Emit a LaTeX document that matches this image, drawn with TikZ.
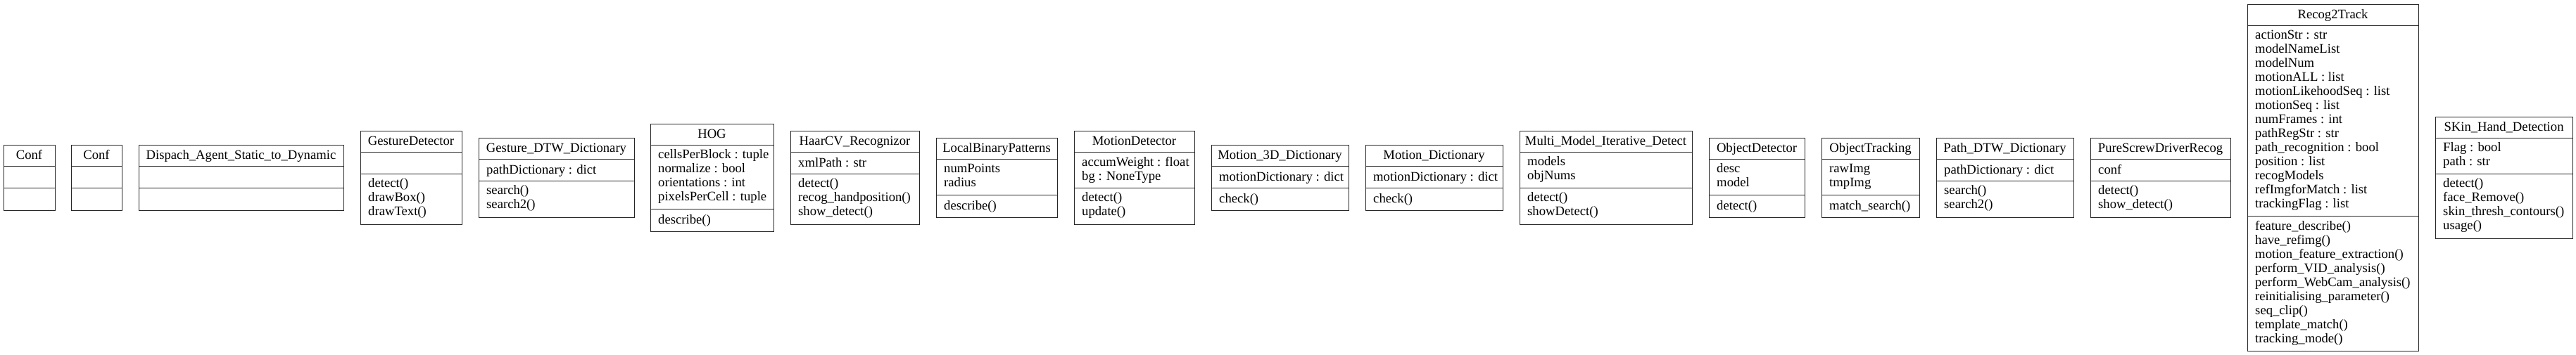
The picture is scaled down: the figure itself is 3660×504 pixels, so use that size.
\documentclass[tikz,border=0pt]{standalone}
\usepackage{fontspec}
\setmainfont{Liberation Serif}
\newcommand\umlfont{\fontsize{18.67}{20}\selectfont}
\newcommand\ustrut{\rule[-5pt]{0pt}{20pt}}
\tikzset{
  classbox/.style={draw=black!85, line width=1.2pt, inner sep=0pt, rectangle},
  classline/.style={draw=black!85, line width=1.2pt},
  classtext/.style={inner sep=0pt, font=\umlfont, align=left,
    execute at begin node=\ustrut, execute at end node=\ustrut},
  classhead/.style={inner sep=0pt, font=\umlfont, execute at begin node=\ustrut},
}
% id, left x, width, #attr lines, #method lines, header, attrs, methods
\newcommand\umlclass[8]{%
  \pgfmathsetmacro\ucA{max(#4,1)*20+11}%
  \pgfmathsetmacro\ucM{max(#5,1)*20+11}%
  \pgfmathsetmacro\ucH{31+\ucA+\ucM}%
  \pgfmathsetmacro\ucT{-(252-\ucH/2)}%
  \node[classbox, anchor=north west, minimum width=#3pt, minimum height=\ucH pt] (#1) at (#2,\ucT) {};
  \draw[classline] (#2,\ucT-31) -- ++(#3,0);
  \draw[classline] (#2,\ucT-31-\ucA) -- ++(#3,0);
  \node[classhead] (#1-h) at (#2+#3/2,\ucT-15.5) {#6};
  \ifnum#4>0 \node[classtext, anchor=west] (#1-a) at (#2+11,\ucT-31-\ucA/2) {#7};\fi
  \ifnum#5>0 \node[classtext, anchor=west] (#1-m) at (#2+11,\ucT-31-\ucA-\ucM/2) {#8};\fi
}
\begin{document}
\begin{tikzpicture}[x=1pt,y=1pt]
\useasboundingbox (0,-504) rectangle (3660,0);
\fill[white] (0,-504) rectangle (3660,0);
\umlclass{conf1}{5}{73}{0}{0}{Conf}{}{}
\umlclass{conf2}{101}{72}{0}{0}{Conf}{}{}
\umlclass{dispach}{197}{291}{0}{0}{Dispach\_Agent\_Static\_to\_Dynamic}{}{}
\umlclass{gesdet}{512}{144}{0}{3}{GestureDetector}{}{detect()\\drawBox()\\drawText()}
\umlclass{gesdtw}{680}{221}{1}{2}{Gesture\_DTW\_Dictionary}{pathDictionary : dict}{search()\\search2()}
\umlclass{hog}{924}{175}{4}{1}{HOG}{cellsPerBlock : tuple\\normalize : bool\\orientations : int\\pixelsPerCell : tuple}{describe()}
\umlclass{haar}{1123}{183}{1}{3}{HaarCV\_Recognizor}{xmlPath : str}{detect()\\recog\_handposition()\\show\_detect()}
\umlclass{lbp}{1330}{172}{2}{1}{LocalBinaryPatterns}{numPoints\\radius}{describe()}
\umlclass{motdet}{1526}{171}{2}{2}{MotionDetector}{accumWeight : float\\bg : NoneType}{detect()\\update()}
\umlclass{mot3d}{1721}{195}{1}{1}{Motion\_3D\_Dictionary}{motionDictionary : dict}{check()}
\umlclass{motdict}{1940}{195}{1}{1}{Motion\_Dictionary}{motionDictionary : dict}{check()}
\umlclass{multi}{2159}{245}{2}{2}{Multi\_Model\_Iterative\_Detect}{models\\objNums}{detect()\\showDetect()}
\umlclass{objdet}{2428}{136}{2}{1}{ObjectDetector}{desc\\model}{detect()}
\umlclass{objtrack}{2588}{139}{2}{1}{ObjectTracking}{rawImg\\tmpImg}{match\_search()}
\umlclass{pathdtw}{2751}{195}{1}{2}{Path\_DTW\_Dictionary}{pathDictionary : dict}{search()\\search2()}
\umlclass{pure}{2970}{199}{1}{2}{PureScrewDriverRecog}{conf}{detect()\\show\_detect()}
\umlclass{recog}{3193}{243}{13}{9}{Recog2Track}{actionStr : str\\modelNameList\\modelNum\\motionALL : list\\motionLikehoodSeq : list\\motionSeq : list\\numFrames : int\\pathRegStr : str\\path\_recognition : bool\\position : list\\recogModels\\refImgforMatch : list\\trackingFlag : list}{feature\_describe()\\have\_refimg()\\motion\_feature\_extraction()\\perform\_VID\_analysis()\\perform\_WebCam\_analysis()\\reinitialising\_parameter()\\seq\_clip()\\template\_match()\\tracking\_mode()}
\umlclass{skin}{3460}{195}{2}{4}{SKin\_Hand\_Detection}{Flag : bool\\path : str}{detect()\\face\_Remove()\\skin\_thresh\_contours()\\usage()}
\end{tikzpicture}
\end{document}
